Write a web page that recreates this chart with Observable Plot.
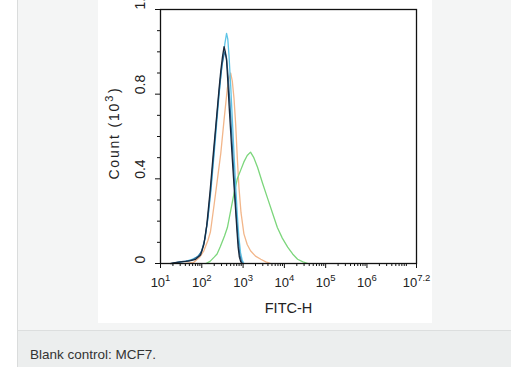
<!DOCTYPE html>
<html>
<head>
<meta charset="utf-8">
<script src="https://cdn.jsdelivr.net/npm/d3@7"></script>
<script src="https://cdn.jsdelivr.net/npm/@observablehq/plot@0.6"></script>
<style>
  html, body { margin: 0; padding: 0; background: #ffffff; width: 511px; height: 367px; overflow: hidden; font-family: "Liberation Sans", Arial, sans-serif; }
  #panel { position: absolute; left: 17px; top: 0; width: 494px; height: 330px; background: #f4f5f5; border-left: 1px solid #dadcdc; }
  #foot { position: absolute; left: 17px; top: 330px; width: 494px; height: 37px; background: #eceeee; border-left: 1px solid #dadcdc; border-top: 1px solid #dcdede; }
  #caption { position: absolute; left: 12px; top: 16px; font-size: 13.5px; color: #333; }
  #box { position: absolute; left: 98px; top: 0; width: 334px; height: 323px; background: #fff; overflow: hidden; }
  #title { position: absolute; left: 125px; top: -11px; font-size: 13px; line-height: 13px; color: #111; white-space: nowrap; }
  #title span { color: #6fd36f; }
</style>
</head>
<body>
<div id="panel"></div>
<div id="foot"><div id="caption">Blank control: MCF7.</div></div>
<div id="box"><div id="title">bs-0054R-FITC <span>——</span></div></div>
<script>
// x = log10(FITC-H), y = count (×10^3)
const blackL = [1.25,1.35,1.50,1.62,1.73,1.85,1.97,2.05,2.12,2.20,2.27,2.33,2.38,2.42,2.46,2.50,2.54,2.57,2.60,2.63,2.66,2.70,2.74,2.78,2.82,2.85,2.88,2.91,2.94,2.97];
const blackC = [0,0.004,0.008,0.01,0.014,0.02,0.04,0.09,0.18,0.34,0.50,0.63,0.74,0.83,0.91,0.975,1.025,1.0,0.96,0.86,0.75,0.62,0.49,0.37,0.25,0.16,0.077,0.03,0.01,0];

const blueL = [1.28,1.40,1.55,1.68,1.80,1.92,2.00,2.08,2.15,2.22,2.29,2.35,2.40,2.45,2.49,2.53,2.56,2.60,2.64,2.68,2.72,2.76,2.80,2.84,2.88,2.92,2.96,2.99];
const blueC = [0,0.005,0.01,0.012,0.02,0.035,0.06,0.12,0.22,0.36,0.52,0.66,0.77,0.87,0.94,0.98,1.0,0.97,0.88,0.76,0.62,0.48,0.34,0.22,0.11,0.04,0.012,0];

const cyanL = [1.30,1.45,1.60,1.75,1.88,1.98,2.06,2.14,2.22,2.30,2.36,2.42,2.47,2.52,2.56,2.60,2.63,2.66,2.70,2.74,2.78,2.82,2.86,2.90,2.94,2.98,3.02];
const cyanC = [0,0.006,0.01,0.018,0.03,0.05,0.1,0.2,0.34,0.52,0.66,0.80,0.90,0.98,1.04,1.087,1.06,0.98,0.84,0.68,0.52,0.37,0.23,0.12,0.05,0.015,0];

const orangeL = [1.60,1.80,1.95,2.05,2.15,2.21,2.30,2.38,2.46,2.54,2.62,2.67,2.70,2.74,2.78,2.82,2.86,2.90,2.95,3.02,3.10,3.18,3.30,3.43,3.55,3.67];
const orangeC = [0,0.005,0.03,0.06,0.11,0.15,0.28,0.40,0.52,0.68,0.83,0.88,0.90,0.86,0.78,0.66,0.50,0.36,0.24,0.14,0.09,0.06,0.035,0.02,0.008,0];

const greenL = [2.10,2.20,2.30,2.37,2.45,2.55,2.62,2.70,2.78,2.86,2.94,3.02,3.10,3.18,3.26,3.35,3.47,3.59,3.71,3.83,3.95,4.08,4.20,4.32,4.45,4.57];
const greenC = [0,0.01,0.03,0.045,0.08,0.13,0.17,0.25,0.33,0.40,0.44,0.48,0.51,0.526,0.50,0.455,0.38,0.31,0.24,0.17,0.12,0.077,0.045,0.02,0.008,0];

const xTickExps = [1,2,3,4,5,6,7.2];
const yTicks = [0,0.4,0.8,1.2];
const yMinor = [0.1,0.2,0.3,0.5,0.6,0.7,0.9,1.0,1.1];

const series = [
  {name: "S-orange", L: orangeL, C: orangeC, color: "#f2b68a"},
  {name: "S-green", L: greenL, C: greenC, color: "#7cd67c"},
  {name: "S-cyan", L: cyanL, C: cyanC, color: "#5ec4e6"},
  {name: "S-blue", L: blueL, C: blueC, color: "#2f6e9c"},
  {name: "S-black", L: blackL, C: blackC, color: "#18283c"}
];
const rows = series.flatMap(s => s.L.map((l, i) => ({name: s.name, x: l, y: s.C[i]})));

// log minor tick positions (in decades)
const xMinor = [];
for (let d = 1; d <= 7; d++) for (let k = 2; k <= 9; k++) { const v = d + Math.log10(k); if (v < 7.2) xMinor.push(v); }

const plot = Plot.plot({
  width: 334,
  height: 323,
  marginLeft: 62,
  marginRight: 16,
  marginTop: 9,
  marginBottom: 60,
  style: {fontFamily: "Liberation Sans, Arial, sans-serif", color: "#222", background: "transparent"},
  x: {domain: [1, 7.2]},
  y: {domain: [0, 1.2]},
  color: {domain: series.map(s => s.name), range: series.map(s => s.color)},
  marks: [
    Plot.line(rows, {x: "x", y: "y", z: "name", stroke: "name", strokeWidth: 1.3}),
    Plot.frame({stroke: "#111", strokeWidth: 1.3}),
    Plot.axisX(xMinor, {tickSize: 3, tickFormat: () => "", label: null, stroke: "#111"}),
    Plot.axisX(xTickExps, {tickSize: 5, tickPadding: 9, label: null, stroke: "#111", fontSize: 13, fill: "#222",
      tickFormat: d => String(d)}),
    Plot.axisY(yMinor, {tickSize: 3, tickFormat: () => "", label: null, stroke: "#111"}),
    Plot.axisY(yTicks, {tickSize: 5, tickFormat: () => "", label: null, stroke: "#111"}),
    Plot.text(yTicks, {y: d => d, text: d => String(d), frameAnchor: "left", dx: -20, rotate: -90, fontSize: 14, fill: "#222"}),
    Plot.text(["FITC-H"], {frameAnchor: "bottom", dy: 49, fill: "#222", fontSize: 14.5})
  ]
});

// superscripts on x tick labels (10^exp)
d3.select(plot).selectAll('g[aria-label="x-axis tick label"] text').each(function() {
  const exp = this.textContent;
  if (!exp) return;
  const t = d3.select(this);
  t.text("");
  t.append("tspan").text("10");
  t.append("tspan").attr("dy", "-6px").attr("font-size", "9.5px").text(exp);
});

// y-axis title with superscript
const yl = d3.select(plot).append("text")
  .attr("transform", "translate(21,133) rotate(-90)")
  .attr("text-anchor", "middle")
  .attr("fill", "#222")
  .attr("font-size", "14px")
  .attr("letter-spacing", "1.8px");
yl.append("tspan").text("Count (");
yl.append("tspan").text("10");
yl.append("tspan").attr("dy", "-6px").attr("font-size", "11px").text("3");
yl.append("tspan").attr("dy", "6px").attr("dx", "1px").text(")");

plot.style.position = "absolute";
plot.style.left = "0";
plot.style.top = "0";
document.getElementById("box").appendChild(plot);
</script>
</body>
</html>
